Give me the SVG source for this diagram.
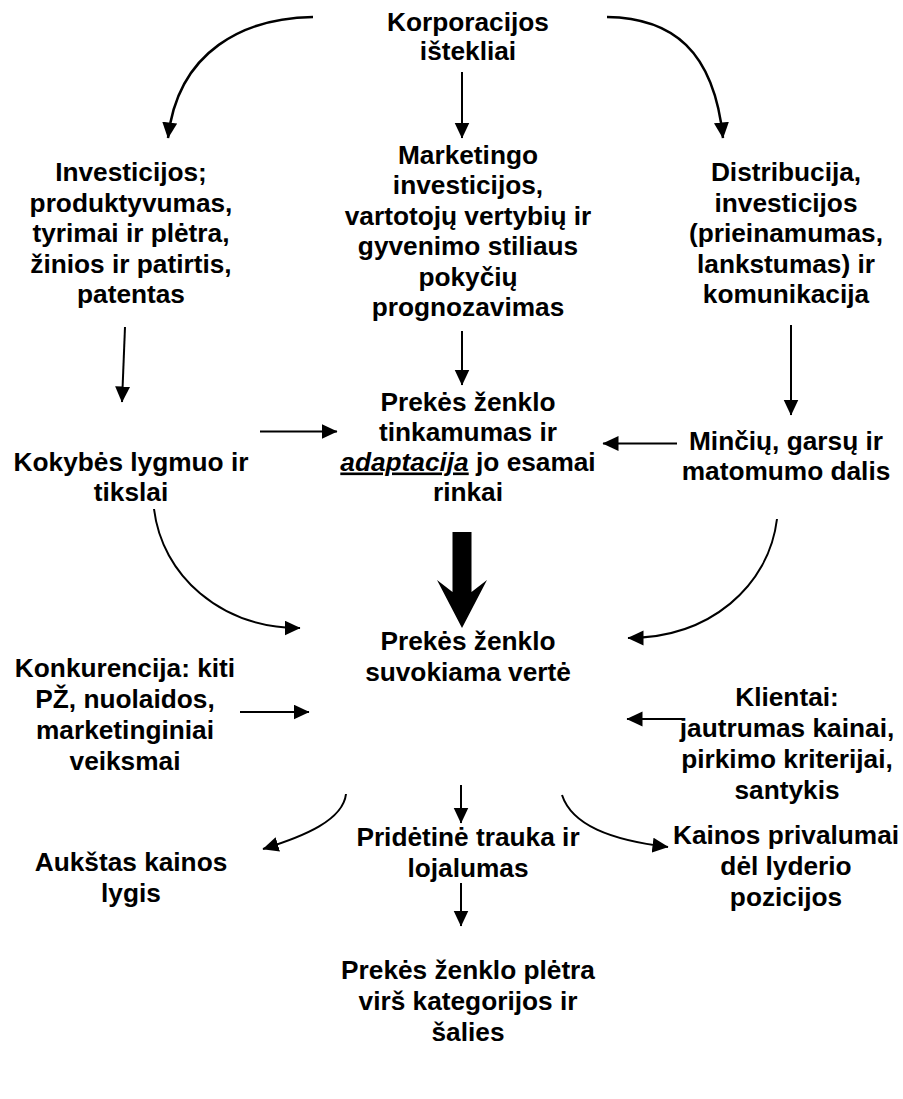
<svg xmlns="http://www.w3.org/2000/svg" width="903" height="1099" viewBox="0 0 903 1099">
<style>
text{font-family:"Liberation Sans",Arial,sans-serif;font-weight:bold;font-size:26.25px;text-anchor:middle;fill:#000}
.c{fill:none;stroke:#000;stroke-width:2}
.t{stroke-width:2.5}
</style>
<defs>
<marker id="ah" markerUnits="userSpaceOnUse" markerWidth="17" markerHeight="16" refX="15.5" refY="7.5" orient="auto">
<path d="M0,0 L16,7.5 L0,15 z" fill="#000"/>
</marker>
</defs>
<rect width="903" height="1099" fill="#fff"/>
<g id="connectors">
<path class="c t" d="M313,17 C245,18 178,50 168,138" marker-end="url(#ah)"/>
<path class="c t" d="M607,17 C672,18 714,50 723,138" marker-end="url(#ah)"/>
<path class="c" d="M462,72 L462,138" marker-end="url(#ah)"/>
<path class="c" d="M125,327 L122,402" marker-end="url(#ah)"/>
<path class="c" d="M462,331 L462,385" marker-end="url(#ah)"/>
<path class="c" d="M791,325 L791,415" marker-end="url(#ah)"/>
<path class="c" d="M260,431.5 L337,431.5" marker-end="url(#ah)"/>
<path class="c" d="M677,443.5 L603,443.5" marker-end="url(#ah)"/>
<path class="c" d="M154,509 C162,575 220,628 300,628" marker-end="url(#ah)"/>
<path class="c" d="M777,519 C769,586 710,638 628,638" marker-end="url(#ah)"/>
<polygon points="452.5,532 471.5,532 471.5,592 487,580 462,628 437,580 452.5,592" fill="#000"/>
<path class="c" d="M240,712 L309,712" marker-end="url(#ah)"/>
<path class="c" d="M682,719 L627,719" marker-end="url(#ah)"/>
<path class="c" d="M461,785 L461,823" marker-end="url(#ah)"/>
<path class="c" d="M346,794 C343,820 305,836 263,849" marker-end="url(#ah)"/>
<path class="c" d="M562,795 C572,825 610,840 668,847" marker-end="url(#ah)"/>
<path class="c" d="M461,883 L461,926" marker-end="url(#ah)"/>
</g>
<g id="n1"><text x="468" y="31"><tspan x="468">Korporacijos</tspan><tspan x="468" dy="29">ištekliai</tspan></text></g>
<g id="n2"><text x="131" y="181"><tspan x="131">Investicijos;</tspan><tspan x="131" dy="30.5">produktyvumas,</tspan><tspan x="131" dy="30.5">tyrimai ir plėtra,</tspan><tspan x="131" dy="30.5">žinios ir patirtis,</tspan><tspan x="131" dy="30.5">patentas</tspan></text></g>
<g id="n3"><text x="468" y="164"><tspan x="468">Marketingo</tspan><tspan x="468" dy="30.4">investicijos,</tspan><tspan x="468" dy="30.4">vartotojų vertybių ir</tspan><tspan x="468" dy="30.4">gyvenimo stiliaus</tspan><tspan x="468" dy="30.4">pokyčių</tspan><tspan x="468" dy="30.4">prognozavimas</tspan></text></g>
<g id="n4"><text x="786" y="181"><tspan x="786">Distribucija,</tspan><tspan x="786" dy="30.5">investicijos</tspan><tspan x="786" dy="30.5">(prieinamumas,</tspan><tspan x="786" dy="30.5">lankstumas) ir</tspan><tspan x="786" dy="30.5">komunikacija</tspan></text></g>
<g id="n5"><text x="131" y="471"><tspan x="131">Kokybės lygmuo ir</tspan><tspan x="131" dy="30">tikslai</tspan></text></g>
<g id="n6"><text x="468" y="411"><tspan x="468">Prekės ženklo</tspan><tspan x="468" dy="30">tinkamumas ir</tspan><tspan x="468" dy="29.5"><tspan font-style="italic" text-decoration="underline">adaptacija</tspan> jo esamai</tspan><tspan x="468" dy="30">rinkai</tspan></text></g>
<g id="n7"><text x="786" y="450"><tspan x="786">Minčių, garsų ir</tspan><tspan x="786" dy="30">matomumo dalis</tspan></text></g>
<g id="n8"><text x="468" y="650"><tspan x="468">Prekės ženklo</tspan><tspan x="468" dy="31">suvokiama vertė</tspan></text></g>
<g id="n9"><text x="125" y="677"><tspan x="125">Konkurencija: kiti</tspan><tspan x="125" dy="31">PŽ, nuolaidos,</tspan><tspan x="125" dy="31">marketinginiai</tspan><tspan x="125" dy="31">veiksmai</tspan></text></g>
<g id="n10"><text x="787" y="706"><tspan x="787">Klientai:</tspan><tspan x="787" dy="31">jautrumas kainai,</tspan><tspan x="787" dy="31">pirkimo kriterijai,</tspan><tspan x="787" dy="31">santykis</tspan></text></g>
<g id="n11"><text x="131" y="871"><tspan x="131">Aukštas kainos</tspan><tspan x="131" dy="31">lygis</tspan></text></g>
<g id="n12"><text x="468" y="846"><tspan x="468">Pridėtinė trauka ir</tspan><tspan x="468" dy="31">lojalumas</tspan></text></g>
<g id="n13"><text x="786" y="844"><tspan x="786">Kainos privalumai</tspan><tspan x="786" dy="31">dėl lyderio</tspan><tspan x="786" dy="31">pozicijos</tspan></text></g>
<g id="n14"><text x="468" y="979"><tspan x="468">Prekės ženklo plėtra</tspan><tspan x="468" dy="31">virš kategorijos ir</tspan><tspan x="468" dy="31">šalies</tspan></text></g>
</svg>
